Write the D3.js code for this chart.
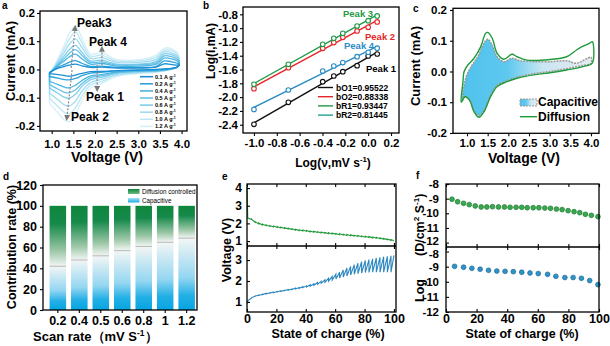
<!DOCTYPE html>
<html>
<head>
<meta charset="utf-8">
<script src="https://cdn.jsdelivr.net/npm/d3@7"></script>
<style>
body { margin: 0; background: #fff; }
svg { display: block; }
</style>
</head>
<body>
<svg id="fig" width="610" height="346"></svg>
<script>
// ---- panel a : CV at several rates ----
var cvRates = ['0.1', '0.2', '0.4', '0.5', '0.6', '0.8', '1.0', '1.2'];
var cvV = [0.95, 1.15, 1.3, 1.4, 1.55, 1.7, 1.9, 2.15, 2.5, 3.0, 3.4, 3.6, 3.75, 3.9, 3.95];
var cvUp = [
  [-0.010, 0.005, 0.011, 0.015, 0.019, 0.013, 0.007, 0.008, 0.005, 0.005, 0.008, 0.020, 0.018, 0.015, 0.015],
  [-0.012, 0.008, 0.018, 0.025, 0.031, 0.022, 0.011, 0.012, 0.007, 0.007, 0.010, 0.030, 0.028, 0.022, 0.018],
  [-0.014, 0.014, 0.032, 0.044, 0.054, 0.038, 0.019, 0.021, 0.012, 0.012, 0.018, 0.040, 0.038, 0.030, 0.022],
  [-0.015, 0.018, 0.040, 0.056, 0.070, 0.050, 0.025, 0.027, 0.016, 0.016, 0.023, 0.048, 0.046, 0.036, 0.026],
  [-0.016, 0.022, 0.050, 0.069, 0.085, 0.060, 0.030, 0.033, 0.019, 0.019, 0.028, 0.055, 0.053, 0.042, 0.030],
  [-0.017, 0.028, 0.063, 0.088, 0.108, 0.077, 0.039, 0.042, 0.025, 0.025, 0.035, 0.062, 0.060, 0.048, 0.034],
  [-0.018, 0.034, 0.077, 0.106, 0.132, 0.094, 0.047, 0.051, 0.030, 0.030, 0.043, 0.068, 0.068, 0.054, 0.037],
  [-0.020, 0.040, 0.090, 0.125, 0.155, 0.110, 0.055, 0.060, 0.035, 0.035, 0.050, 0.075, 0.075, 0.060, 0.040]
];
var cvLo = [
  [-0.015, -0.018, -0.022, -0.024, -0.020, -0.014, -0.008, -0.007, -0.004, -0.002, 0.000, 0.002, 0.004, 0.008, 0.015],
  [-0.025, -0.031, -0.036, -0.037, -0.032, -0.022, -0.013, -0.010, -0.005, -0.003, -0.002, 0.000, 0.003, 0.008, 0.018],
  [-0.042, -0.054, -0.063, -0.065, -0.056, -0.039, -0.023, -0.018, -0.009, -0.005, -0.004, -0.002, 0.002, 0.008, 0.022],
  [-0.054, -0.070, -0.081, -0.083, -0.072, -0.050, -0.029, -0.023, -0.011, -0.007, -0.005, -0.002, 0.001, 0.008, 0.026],
  [-0.066, -0.085, -0.099, -0.102, -0.088, -0.060, -0.036, -0.028, -0.014, -0.008, -0.006, -0.003, 0.000, 0.009, 0.030],
  [-0.084, -0.108, -0.126, -0.130, -0.112, -0.077, -0.046, -0.035, -0.018, -0.011, -0.007, -0.004, 0.000, 0.009, 0.034],
  [-0.102, -0.132, -0.153, -0.157, -0.136, -0.094, -0.055, -0.043, -0.021, -0.013, -0.009, -0.004, 0.000, 0.010, 0.037],
  [-0.120, -0.155, -0.180, -0.185, -0.160, -0.110, -0.065, -0.050, -0.025, -0.015, -0.010, -0.005, 0.000, 0.010, 0.040]
];
var cvColors = ['#1a8fd4', '#2fa2dc', '#4bb4e2', '#66c2e7', '#82cfeb', '#a0dbf0', '#bde6f4', '#d6f0f8'];

// ---- panel b : log(i) vs log(v) ----
var logV = [-1, -0.699, -0.398, -0.301, -0.222, -0.097, 0, 0.079];
var peak1 = [-2.395, -2.076, -1.776, -1.694, -1.631, -1.544, -1.404, -1.375];
var peak2 = [-1.878, -1.573, -1.293, -1.210, -1.133, -1.040, -0.988, -0.910];
var peak3 = [-1.815, -1.525, -1.235, -1.148, -1.075, -0.969, -0.892, -0.824];
var peak4 = [-2.178, -1.897, -1.622, -1.549, -1.500, -1.414, -1.350, -1.290];
var bLegend = ['bO1=0.95522', 'bO2=0.88338', 'bR1=0.93447', 'bR2=0.81445'];

// ---- panel c : capacitive vs total CV ----
var cTotal = [[0.86, -0.100], [0.90, -0.038], [0.93, 0.000], [1.02, 0.021], [1.17, 0.043], [1.33, 0.080],
  [1.45, 0.124], [1.50, 0.127], [1.61, 0.108], [1.73, 0.059], [1.89, 0.040], [2.09, 0.056], [2.21, 0.048],
  [2.45, 0.037], [3.01, 0.039], [3.41, 0.048], [3.65, 0.070], [3.77, 0.080], [3.97, 0.092], [4.03, 0.097],
  [4.03, 0.027], [3.81, 0.016], [3.41, 0.005], [3.01, -0.004], [2.61, -0.011], [2.21, -0.022], [1.97, -0.033],
  [1.73, -0.049], [1.57, -0.082], [1.41, -0.131], [1.29, -0.149], [1.17, -0.131], [1.06, -0.093], [0.95, -0.082]];
var cCap = [[0.88, -0.097], [0.98, -0.017], [1.10, 0.016], [1.26, 0.048], [1.41, 0.092], [1.50, 0.105],
  [1.61, 0.086], [1.73, 0.048], [1.89, 0.032], [2.09, 0.043], [2.29, 0.035], [3.01, 0.032], [3.41, 0.035],
  [3.65, 0.027], [4.00, 0.046], [4.00, 0.026], [3.81, 0.020], [3.41, 0.009], [3.01, 0.000], [2.61, -0.007],
  [2.21, -0.019], [1.97, -0.030], [1.73, -0.045], [1.57, -0.078], [1.41, -0.127], [1.29, -0.144],
  [1.17, -0.127], [1.06, -0.090], [0.95, -0.081]];

// ---- panel d : contribution ----
var dRates = ['0.2', '0.4', '0.5', '0.6', '0.8', '1', '1.2'];
var dCapacitive = [42, 48, 52, 57, 61, 65, 69];

// ---- panel e : GITT ----
var socSteps = [0, 0.5, 3, 5.5, 8, 10.5, 13, 15.5, 18, 20.5, 23, 25.5, 28, 30.5, 33, 35.5, 38, 40.5, 43, 45.5,
  48, 50.5, 53, 55.5, 58, 60.5, 63, 65.5, 68, 70.5, 73, 75.5, 78, 80.5, 83, 85.5, 88, 90.5, 93, 95.5, 98, 100];
var disRest = [4.05, 2.30, 2.25, 2.10, 2.02, 1.96, 1.92, 1.88, 1.85, 1.82, 1.79, 1.76, 1.73, 1.70, 1.67, 1.64,
  1.62, 1.60, 1.57, 1.55, 1.53, 1.51, 1.49, 1.47, 1.45, 1.43, 1.41, 1.39, 1.37, 1.35, 1.33, 1.31, 1.29, 1.27,
  1.25, 1.23, 1.21, 1.18, 1.15, 1.12, 1.09];
var disPulse = [2.35, 2.22, 2.06, 1.97, 1.91, 1.87, 1.83, 1.80, 1.77, 1.74, 1.71, 1.68, 1.65, 1.62, 1.59, 1.57,
  1.55, 1.52, 1.50, 1.48, 1.46, 1.44, 1.42, 1.40, 1.38, 1.36, 1.34, 1.32, 1.30, 1.28, 1.26, 1.24, 1.22, 1.20,
  1.18, 1.16, 1.13, 1.10, 1.07, 1.04, 1.02];
var chgRest = [0.92, 1.05, 1.20, 1.27, 1.31, 1.35, 1.38, 1.41, 1.44, 1.47, 1.50, 1.53, 1.56, 1.59, 1.62, 1.65,
  1.68, 1.71, 1.75, 1.79, 1.84, 1.89, 1.94, 1.99, 2.04, 2.09, 2.14, 2.19, 2.24, 2.28, 2.32, 2.35, 2.38, 2.40,
  2.41, 2.42, 2.42, 2.42, 2.42, 2.42, 2.42];
var chgPulse = [1.00, 1.18, 1.28, 1.33, 1.37, 1.41, 1.44, 1.47, 1.50, 1.53, 1.56, 1.59, 1.62, 1.66, 1.69, 1.73,
  1.77, 1.82, 1.87, 1.93, 1.99, 2.06, 2.13, 2.22, 2.32, 2.42, 2.52, 2.62, 2.70, 2.78, 2.85, 2.92, 2.98, 3.02,
  3.06, 3.10, 3.13, 3.16, 3.18, 3.20, 3.22];

// ---- panel f : diffusion coefficient ----
var fDisX = [3.9, 7.6, 11.5, 15.2, 19.1, 23.0, 26.7, 30.4, 34.3, 38.2, 41.9, 45.8, 49.5, 53.1, 57.0, 60.7,
  64.6, 68.3, 72.2, 75.9, 79.8, 83.7, 87.4, 91.1, 95.0, 99.3];
var fDisY = [-9.04, -9.21, -9.32, -9.41, -9.50, -9.57, -9.57, -9.55, -9.57, -9.57, -9.59, -9.59, -9.59, -9.62,
  -9.62, -9.62, -9.64, -9.66, -9.71, -9.75, -9.82, -9.89, -9.96, -10.07, -10.14, -10.23];
var fChgX = [5.6, 11.5, 16.9, 22.3, 27.8, 33.2, 38.6, 44.0, 49.5, 54.9, 60.3, 66.4, 71.8, 77.7, 83.1, 88.5, 93.9, 99.3];
var fChgY = [-8.98, -9.04, -9.11, -9.17, -9.24, -9.29, -9.31, -9.33, -9.37, -9.42, -9.46, -9.51, -9.64, -9.72,
  -9.72, -9.77, -9.92, -10.19];

var FONT = '"Liberation Sans", Arial, Helvetica, sans-serif';
var svg = d3.select('#fig').attr('font-family', FONT).attr('font-weight', 'bold');
var defs = svg.append('defs');

function box(x0, y0, x1, y1) {
  svg.append('rect').attr('x', x0).attr('y', y0).attr('width', x1 - x0).attr('height', y1 - y0)
    .attr('fill', 'none').attr('stroke', '#000').attr('stroke-width', 1.3);
}
function styleAxis(g, fs) {
  g.attr('font-family', FONT).attr('font-size', fs).attr('font-weight', 'bold');
  g.select('.domain').remove();
  g.selectAll('.tick line').attr('stroke', '#000').attr('stroke-width', 1.1);
  g.selectAll('.tick text').attr('fill', '#000');
  return g;
}
function axisLeft(y, x0, ticks, fmt, fs, pad, inward) {
  var g = svg.append('g').attr('transform', 'translate(' + x0 + ',0)')
    .call(d3.axisLeft(y).tickValues(ticks).tickFormat(fmt).tickSizeInner(inward ? -3 : 3).tickSizeOuter(0).tickPadding(pad));
  return styleAxis(g, fs);
}
function axisBottom(x, y0, ticks, fmt, fs, pad, inward) {
  var g = svg.append('g').attr('transform', 'translate(0,' + y0 + ')')
    .call(d3.axisBottom(x).tickValues(ticks).tickFormat(fmt).tickSizeInner(inward ? -3 : 3).tickSizeOuter(0).tickPadding(pad));
  return styleAxis(g, fs);
}
function axisTop(x, y0, ticks) {
  var g = svg.append('g').attr('transform', 'translate(0,' + y0 + ')')
    .call(d3.axisTop(x).tickValues(ticks).tickFormat('').tickSizeInner(-3).tickSizeOuter(0));
  return styleAxis(g, 10);
}
// text with optional superscript parts: parts = [[str, sup?], ...]
function label(x, y, parts, fs, opt) {
  opt = opt || {};
  var t = svg.append('text').attr('x', x).attr('y', y).attr('font-size', fs)
    .attr('fill', opt.fill || '#000').attr('text-anchor', opt.anchor || 'start');
  if (opt.weight) t.attr('font-weight', opt.weight);
  if (opt.rotate) t.attr('transform', 'rotate(-90,' + x + ',' + y + ')');
  if (typeof parts === 'string') parts = [[parts]];
  parts.forEach(function (p) {
    var s = t.append('tspan').text(p[0]);
    if (p[1]) s.attr('font-size', fs * 0.65).attr('dy', -fs * 0.4);
    else if (t.selectAll('tspan').size() > 1) s.attr('dy', fs * 0.4);
  });
  return t;
}
var fmt1 = function (d) { return d.toFixed(1); };
var fmt0 = function (d) { return String(d); };

// ================= panel a =================
var aX = d3.scaleLinear().domain([0.73, 4.125]).range([40, 187]);
var aY = d3.scaleLinear().domain([-0.218, 0.207]).range([131, 11]);
var cvLine = d3.line().x(function (d) { return aX(d[0]); }).y(function (d) { return aY(d[1]); })
  .curve(d3.curveCatmullRom.alpha(0.5));
for (var k = cvRates.length - 1; k >= 0; k--) {
  var pts = cvV.map(function (v, i) { return [v, cvUp[k][i]]; })
    .concat(cvV.map(function (v, i) { return [v, cvLo[k][i]]; }).reverse());
  svg.append('path').attr('d', cvLine(pts) + 'Z').attr('fill', 'none')
    .attr('stroke', cvColors[k]).attr('stroke-width', 1.3).attr('stroke-linejoin', 'round');
}
defs.append('marker').attr('id', 'arr').attr('viewBox', '0 0 10 10').attr('refX', 5).attr('refY', 5)
  .attr('markerWidth', 5).attr('markerHeight', 5).attr('orient', 'auto-start-reverse')
  .append('path').attr('d', 'M0,0L10,5L0,10Z').attr('fill', '#777');
var aArrows = [[1.45, 0.005, 1.54, 0.147], [2.16, 0.016, 2.16, 0.073], [2.05, 0.016, 2.05, -0.069], [1.47, -0.002, 1.35, -0.172]];
aArrows.forEach(function (a) {
  svg.append('line').attr('x1', aX(a[0])).attr('y1', aY(a[1])).attr('x2', aX(a[2])).attr('y2', aY(a[3]))
    .attr('stroke', '#888').attr('stroke-width', 1.2).attr('stroke-dasharray', '2,1.5').attr('marker-end', 'url(#arr)');
});
label(77, 27, 'Peak3', 12);
label(89, 46, 'Peak 4', 12);
label(86, 101, 'Peak 1', 12);
label(71, 121, 'Peak 2', 12);
cvRates.forEach(function (r, i) {
  var y = 76.7 + i * 7.1;
  svg.append('line').attr('x1', 140).attr('x2', 153).attr('y1', y).attr('y2', y)
    .attr('stroke', cvColors[i]).attr('stroke-width', 1.6);
  label(155, y + 2, [[r + ' A g'], ['-1', true]], 5.5);
});
box(40, 11, 187, 131);
axisLeft(aY, 40, [-0.2, -0.1, 0, 0.1, 0.2], fmt1, 11.5, 2);
axisBottom(aX, 131, [1, 1.5, 2, 2.5, 3, 3.5, 4], fmt1, 11.5, 6);
label(15, 61, 'Current (mA)', 13, { anchor: 'middle', rotate: true });
label(107, 162, 'Voltage (V)', 14, { anchor: 'middle' });

// ================= panel b =================
var bX = d3.scaleLinear().domain([-1.096, 0.27]).range([243, 399]);
var bY = d3.scaleLinear().domain([-2.52, -0.694]).range([133, 7]);
function fit(xs, ys) {
  var mx = d3.mean(xs), my = d3.mean(ys);
  var s = d3.sum(xs, function (x, i) { return (x - mx) * (ys[i] - my); }) / d3.sum(xs, function (x) { return (x - mx) * (x - mx); });
  return function (x) { return my + s * (x - mx); };
}
var bSeries = [[peak1, '#111111'], [peak2, '#e8262a'], [peak3, '#1f9a45'], [peak4, '#2a8cc6']];
bSeries.forEach(function (s) {
  var f = fit(logV, s[0]);
  svg.append('line').attr('x1', bX(-1)).attr('y1', bY(f(-1))).attr('x2', bX(0.079)).attr('y2', bY(f(0.079)))
    .attr('stroke', s[1]).attr('stroke-width', 1.4);
  svg.append('g').selectAll('circle').data(s[0]).join('circle')
    .attr('cx', function (d, i) { return bX(logV[i]); }).attr('cy', function (d) { return bY(d); })
    .attr('r', 2.3).attr('fill', '#fff').attr('stroke', s[1]).attr('stroke-width', 1.1);
});
label(343, 17, 'Peak 3', 9.5, { fill: '#1f9a45' });
label(365, 40, 'Peak 2', 9.5, { fill: '#e8262a' });
label(344, 49, 'Peak 4', 9.5, { fill: '#2a8cc6' });
label(366, 72, 'Peak 1', 9.5);
var bLegColors = ['#111111', '#e8262a', '#1f9a45', '#22a08e'];
bLegend.forEach(function (t, i) {
  var y = 87.5 + i * 9.2;
  svg.append('line').attr('x1', 318).attr('x2', 333).attr('y1', y).attr('y2', y).attr('stroke', bLegColors[i]).attr('stroke-width', 1.4);
  label(336, y + 3, t, 8.5);
});
box(243, 7, 399, 133);
axisLeft(bY, 243, [-2.4, -2.2, -2.0, -1.8, -1.6, -1.4, -1.2, -1.0, -0.8], fmt1, 11.5, 2);
axisBottom(bX, 133, [-1, -0.8, -0.6, -0.4, -0.2, 0, 0.2], fmt1, 11.5, 3);
label(215, 51, 'Log(i,mA)', 12, { anchor: 'middle', rotate: true });
label(333, 167, [['Log(\u03bd,mV s'], ['-1', true], [')']], 12, { anchor: 'middle' });

// ================= panel c =================
var cX = d3.scaleLinear().domain([0.661, 4.194]).range([453, 599]);
var cY = d3.scaleLinear().domain([-0.201, 0.2055]).range([133.3, 8.3]);
var cLine = d3.line().x(function (d) { return cX(d[0]); }).y(function (d) { return cY(d[1]); })
  .curve(d3.curveCatmullRomClosed.alpha(0.5));
var cg = defs.append('linearGradient').attr('id', 'capGrad').attr('x1', 0).attr('x2', 1).attr('y1', 0).attr('y2', 0);
[[0, '#4fc2ee'], [0.35, '#5ec8ef'], [0.62, '#c8e6f3'], [1, '#e6eaee']].forEach(function (s) {
  cg.append('stop').attr('offset', s[0]).attr('stop-color', s[1]);
});
svg.append('path').attr('d', cLine(cCap)).attr('fill', 'url(#capGrad)')
  .attr('stroke', '#9a9a9a').attr('stroke-width', 1.5).attr('stroke-dasharray', '2,1');
svg.append('path').attr('d', cLine(cTotal)).attr('fill', 'none').attr('stroke', '#1f9a3c').attr('stroke-width', 1.4);
svg.append('rect').attr('x', 520).attr('y', 99).attr('width', 17).attr('height', 7).attr('fill', 'url(#capGrad)')
  .attr('stroke', '#9a9a9a').attr('stroke-dasharray', '2,1');
label(538, 106, 'Capacitive', 12);
svg.append('line').attr('x1', 520).attr('x2', 537).attr('y1', 116.7).attr('y2', 116.7).attr('stroke', '#1f9a3c').attr('stroke-width', 1.4);
label(538, 121, 'Diffusion', 12);
box(453, 8.3, 599, 133.3);
axisLeft(cY, 453, [-0.2, -0.1, 0, 0.1, 0.2], fmt1, 11.5, 3);
axisBottom(cX, 133.3, [1, 1.5, 2, 2.5, 3, 3.5, 4], fmt1, 11.5, 3);
label(420, 66, 'Current (mA)', 13, { anchor: 'middle', rotate: true });
label(524, 163, 'Voltage (V)', 14, { anchor: 'middle' });

// ================= panel d =================
var dX = d3.scaleBand().domain(dRates).range([47, 197.5]).paddingInner(0.23).paddingOuter(0.12);
var dY = d3.scaleLinear().domain([0, 120]).range([310, 185]);
dCapacitive.forEach(function (c, i) {
  var t = (100 - c) / 100;
  var g = defs.append('linearGradient').attr('id', 'dg' + i).attr('x1', 0).attr('x2', 0).attr('y1', 0).attr('y2', 1);
  [[0, '#0e873c'], [t * 0.3, '#16894a'], [t * 0.75, '#9ec8a8'], [t, '#f3f6f5'],
   [t + (1 - t) * 0.55, '#93d6f1'], [t + (1 - t) * 0.8, '#22afe6'], [1, '#06a5e2']].forEach(function (s) {
    g.append('stop').attr('offset', s[0]).attr('stop-color', s[1]);
  });
});
svg.append('g').selectAll('rect').data(dCapacitive).join('rect')
  .attr('x', function (d, i) { return dX(dRates[i]); }).attr('width', dX.bandwidth())
  .attr('y', dY(100)).attr('height', dY(0) - dY(100))
  .attr('fill', function (d, i) { return 'url(#dg' + i + ')'; });
svg.append('g').selectAll('line').data(dCapacitive).join('line')
  .attr('x1', function (d, i) { return dX(dRates[i]); }).attr('x2', function (d, i) { return dX(dRates[i]) + dX.bandwidth(); })
  .attr('y1', function (d) { return dY(d); }).attr('y2', function (d) { return dY(d); })
  .attr('stroke', '#aaa').attr('stroke-width', 0.8);
var lgG = defs.append('linearGradient').attr('id', 'lgG').attr('x1', 0).attr('x2', 0).attr('y1', 0).attr('y2', 1);
lgG.append('stop').attr('offset', 0).attr('stop-color', '#0e873c');
lgG.append('stop').attr('offset', 1).attr('stop-color', '#6fb985');
var lgB = defs.append('linearGradient').attr('id', 'lgB').attr('x1', 0).attr('x2', 0).attr('y1', 0).attr('y2', 1);
lgB.append('stop').attr('offset', 0).attr('stop-color', '#a9def3');
lgB.append('stop').attr('offset', 1).attr('stop-color', '#1aaee6');
svg.append('rect').attr('x', 128).attr('y', 189).attr('width', 11.5).attr('height', 5).attr('fill', 'url(#lgG)');
svg.append('rect').attr('x', 128).attr('y', 198).attr('width', 11.5).attr('height', 4.5).attr('fill', 'url(#lgB)');
label(142, 194, 'Diffusion controlled', 6.3, { weight: 'normal' });
label(142, 202.5, 'Capacitive', 6.3, { weight: 'normal' });
box(43, 185, 197, 310);
axisLeft(dY, 43, [0, 20, 40, 60, 80, 100, 120], fmt0, 12.5, 3);
axisBottom(dX, 310, dRates, null, 12.5, 3);
label(16, 247, 'Contribution rate (%)', 12.5, { anchor: 'middle', rotate: true });
label(33, 341, [['Scan rate\uff08mV S'], ['-1', true], ['\uff09']], 13);

// ================= panel e =================
var eX = d3.scaleLinear().domain([0, 101.4]).range([247, 396]);
var eYt = d3.scaleLinear().domain([0.72, 4.23]).range([246, 184]);
var eYb = d3.scaleLinear().domain([0.52, 3.67]).range([312, 246]);
function gitt(s, a, b) {
  var p = [];
  for (var i = 0; i < a.length; i++) { p.push([s[i], a[i]]); p.push([s[i + 1], b[i]]); }
  return p;
}
svg.append('path').attr('d', d3.line().x(function (d) { return eX(d[0]); }).y(function (d) { return eYt(d[1]); })(gitt(socSteps, disRest, disPulse)))
  .attr('fill', 'none').attr('stroke', '#239a3a').attr('stroke-width', 1.1);
svg.append('path').attr('d', d3.line().x(function (d) { return eX(d[0]); }).y(function (d) { return eYb(d[1]); })(gitt(socSteps, chgRest, chgPulse)))
  .attr('fill', 'none').attr('stroke', '#2a86c0').attr('stroke-width', 1.1);
box(247, 184, 396, 312);
svg.append('line').attr('x1', 247).attr('x2', 396).attr('y1', 246).attr('y2', 246).attr('stroke', '#000').attr('stroke-width', 1.3);
var socTicks = [0, 20, 40, 60, 80, 100];
axisLeft(eYt, 247, [1, 2, 3, 4], fmt0, 12, 5, true);
axisLeft(eYb, 247, [1, 2, 3], fmt0, 12, 5, true);
axisTop(eX, 184, socTicks);
axisTop(eX, 246, socTicks);
axisBottom(eX, 246, socTicks, '', 10, 0, true);
axisBottom(eX, 312, socTicks, fmt0, 12.5, 2, true);
label(231, 250, 'Voltage (V)', 12.5, { anchor: 'middle', rotate: true });
label(328, 338, 'State of charge (%)', 12.5, { anchor: 'middle' });

// ================= panel f =================
var fX = d3.scaleLinear().domain([0, 100]).range([446, 599]);
var fYt = d3.scaleLinear().domain([-12.3, -8]).range([247, 184]);
var fYb = d3.scaleLinear().domain([-12, -7.7]).range([312, 247]);
svg.append('g').selectAll('circle').data(fDisY).join('circle')
  .attr('cx', function (d, i) { return fX(fDisX[i]); }).attr('cy', function (d) { return fYt(d); })
  .attr('r', 2.4).attr('fill', '#3aa84f').attr('stroke', '#1c7a32').attr('stroke-width', 0.7);
svg.append('g').selectAll('circle').data(fChgY).join('circle')
  .attr('cx', function (d, i) { return fX(fChgX[i]); }).attr('cy', function (d) { return fYb(d); })
  .attr('r', 2.4).attr('fill', '#2f93c8').attr('stroke', '#1b6c9a').attr('stroke-width', 0.7);
box(446, 184, 599, 312);
svg.append('line').attr('x1', 446).attr('x2', 599).attr('y1', 247).attr('y2', 247).attr('stroke', '#000').attr('stroke-width', 1.3);
var dTicks = [-12, -11, -10, -9, -8];
var fTop = axisLeft(fYt, 446, dTicks, fmt0, 11.5, 7, true);
var fBot = axisLeft(fYb, 446, dTicks, fmt0, 11.5, 7, true);
// keep the two labels that meet at the shared edge apart
fTop.selectAll('.tick text').filter(function (d) { return d === -12; }).attr('y', -2);
fBot.selectAll('.tick text').filter(function (d) { return d === -8; }).attr('y', 2);
axisTop(fX, 184, socTicks);
axisTop(fX, 247, socTicks);
axisBottom(fX, 247, socTicks, '', 10, 0, true);
axisBottom(fX, 312, socTicks, fmt0, 12.5, 2, true);
label(424, 302, 'Log', 12.5, { rotate: true });
label(424, 256, [['(D/cm'], ['2', true], [' S'], ['-1', true], [')']], 12.5, { rotate: true });
label(522, 338, 'State of charge (%)', 12.5, { anchor: 'middle' });

// panel letters
[['a', 2, 9], ['b', 203, 9], ['c', 413, 12], ['d', 3, 180], ['e', 222, 180], ['f', 416, 179]].forEach(function (p) {
  label(p[1], p[2], p[0], 10);
});
</script>
</body>
</html>
